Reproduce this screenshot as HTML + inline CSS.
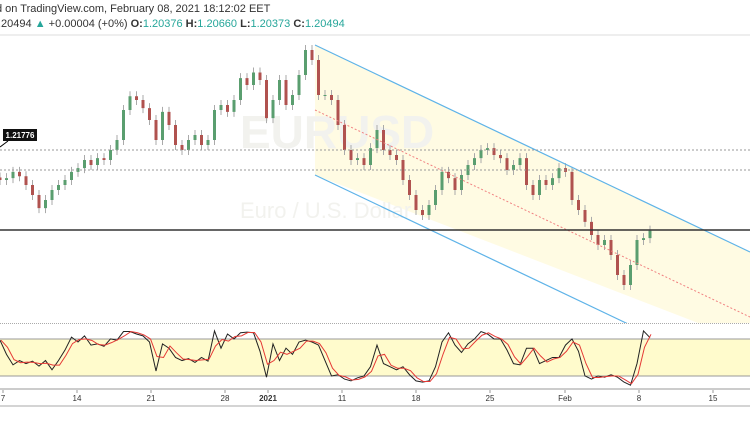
<!DOCTYPE html>
<html><head><meta charset="utf-8">
<style>
body{margin:0;width:750px;height:430px;background:#fff;overflow:hidden;font-family:"Liberation Sans",sans-serif}
svg{display:block}
</style></head><body>
<svg width="750" height="430" id="c">
<text x="-4" y="12" font-size="11" fill="#333">d on TradingView.com, February 08, 2021 18:12:02 EET</text>
<text x="-2" y="27" font-size="11" fill="#333">.20494 <tspan fill="#26a69a">▲</tspan> +0.00004 (+0%) <tspan font-weight="bold">O:</tspan><tspan fill="#26a69a">1.20376</tspan> <tspan font-weight="bold">H:</tspan><tspan fill="#26a69a">1.20660</tspan> <tspan font-weight="bold">L:</tspan><tspan fill="#26a69a">1.20373</tspan> <tspan font-weight="bold">C:</tspan><tspan fill="#26a69a">1.20494</tspan></text>
<line x1="0" y1="35" x2="750" y2="35" stroke="#ddd"/>
<polygon points="315,45 750,252 750,343 315,175" fill="#fffbe3"/>
<text x="240" y="148" font-size="46" fill="#f2f2ee" font-weight="bold">EURUSD</text>
<text x="240" y="218" font-size="22" fill="#f2f2ee">Euro / U.S. Dollar</text>
<g id="candles"></g>
<line x1="315" y1="45" x2="750" y2="252" stroke="#5eb3e8" stroke-width="1.2"/>
<line x1="315" y1="175" x2="750" y2="382" stroke="#5eb3e8" stroke-width="1.2"/>
<line x1="315" y1="110" x2="750" y2="317" stroke="#f08080" stroke-dasharray="2,2"/>
<line x1="0" y1="150" x2="750" y2="150" stroke="#999" stroke-dasharray="2,2"/>
<line x1="0" y1="170" x2="750" y2="170" stroke="#999" stroke-dasharray="2,2"/>
<line x1="0" y1="230" x2="750" y2="230" stroke="#333" stroke-width="1.5"/>
<line x1="0" y1="147" x2="8" y2="141" stroke="#000"/>
<rect x="3" y="129" width="34" height="12" fill="#111"/>
<text x="20" y="138" font-size="8" fill="#fff" text-anchor="middle" font-weight="bold">1.21776</text>
<rect x="0" y="323" width="750" height="67" fill="#fff"/>
<line x1="0" y1="323.5" x2="750" y2="323.5" stroke="#aaa" stroke-dasharray="1,1"/>
<rect x="0" y="339" width="750" height="37" fill="#fffbcc"/>
<line x1="0" y1="339" x2="750" y2="339" stroke="#999"/>
<line x1="0" y1="376" x2="750" y2="376" stroke="#999"/>
<g id="stoch"></g>
<rect x="0" y="388" width="750" height="2" fill="#ccc"/>
<g id="xaxis" font-size="8" fill="#333"></g>
<line x1="0" y1="406" x2="750" y2="406" stroke="#aaa"/>
</svg>
<script>
const closes=[1.2130,1.2133,1.2143,1.2136,1.2122,1.2106,1.2085,1.2098,1.2114,1.2122,1.2130,1.2143,1.2149,1.2162,1.2154,1.2165,1.2162,1.2178,1.2194,1.2242,1.2264,1.2258,1.2245,1.2226,1.2194,1.2239,1.2218,1.2186,1.2178,1.2194,1.2202,1.2186,1.2194,1.2242,1.2250,1.2239,1.2258,1.2293,1.2282,1.2302,1.2290,1.2229,1.2258,1.2290,1.2250,1.2266,1.2298,1.2338,1.2322,1.2266,1.2266,1.2258,1.2218,1.2178,1.2162,1.2165,1.2154,1.2181,1.2210,1.2178,1.2170,1.2162,1.2130,1.2106,1.2082,1.2074,1.2090,1.2114,1.2143,1.2133,1.2114,1.2138,1.2154,1.2165,1.2178,1.2181,1.2170,1.2165,1.2146,1.2154,1.2165,1.2122,1.2106,1.2130,1.2122,1.2133,1.2149,1.2143,1.2098,1.2082,1.2063,1.2042,1.2026,1.2034,1.2010,1.1978,1.1962,1.1994,1.2034,1.2037,1.2049];
const stochK=[78,55,38,45,40,44,36,45,30,45,62,83,75,85,70,72,68,80,78,92,92,88,85,75,28,72,65,50,45,48,42,50,44,93,65,88,80,90,91,90,60,18,72,45,65,55,75,78,75,70,45,20,22,15,12,17,20,35,70,40,35,30,35,22,12,10,12,35,75,90,70,58,72,80,92,88,80,80,62,40,38,65,65,40,45,50,50,70,80,60,20,15,20,18,22,18,10,5,40,93,82];
const dateLabels=["7","14","21","28","2021","11","18","25","Feb","8","15"];
const datePos=[3,77,151,225,268,342,416,490,565,639,713];
const NS="http://www.w3.org/2000/svg";
const step=6.5;
const xOf=i=>i*step;
const yP=p=>(1.2418-p)/0.00016;
const yS=v=>388.3-v*0.617;
const cg=document.getElementById('candles');
function mk(t,a,parent){const e=document.createElementNS(NS,t);for(const k in a)e.setAttribute(k,a[k]);parent.appendChild(e);return e;}
closes.forEach((c,i)=>{
  const o=i?closes[i-1]:c+0.0004;
  const up=c>=o;
  const x=xOf(i);
  const hi=Math.max(o,c)+0.0008,lo=Math.min(o,c)-0.0008;
  const w=mk('line',{x1:x,x2:x,y1:yP(hi),y2:yP(lo),stroke:'#aaa'},cg);
  
  
  const top=yP(Math.max(o,c)),h=Math.max(1,Math.abs(yP(o)-yP(c)));
  const b=mk('rect',{x:x-1.5,y:top,width:3,height:h,fill:up?'#5a9e6f':'#b0524f'},cg);
  
  
});
const sg=document.getElementById('stoch');
const stochD=stochK.map((v,i)=>{const s=stochK.slice(Math.max(0,i-1),i+1);return s.reduce((a,b)=>a+b,0)/s.length;});
const kp=mk('polyline',{points:stochK.map((v,i)=>xOf(i)+','+yS(v)).join(' '),fill:'none',stroke:'#222','stroke-width':1},sg);


const dp=mk('polyline',{points:stochD.map((v,i)=>(xOf(i)+1)+','+yS(v)).join(' '),fill:'none',stroke:'#e53935','stroke-width':1},sg);


const xg=document.getElementById('xaxis');
dateLabels.forEach((l,i)=>{
  const x=datePos[i];
  const t=mk('line',{x1:x,x2:x,y1:390,y2:393,stroke:'#999'},xg);
  
  
  const tx=mk('text',{x:x,y:401,'text-anchor':'middle','font-weight':l==='2021'?'bold':'normal'},xg);
  tx.textContent=l;
  
  
});
</script>
</body></html>
